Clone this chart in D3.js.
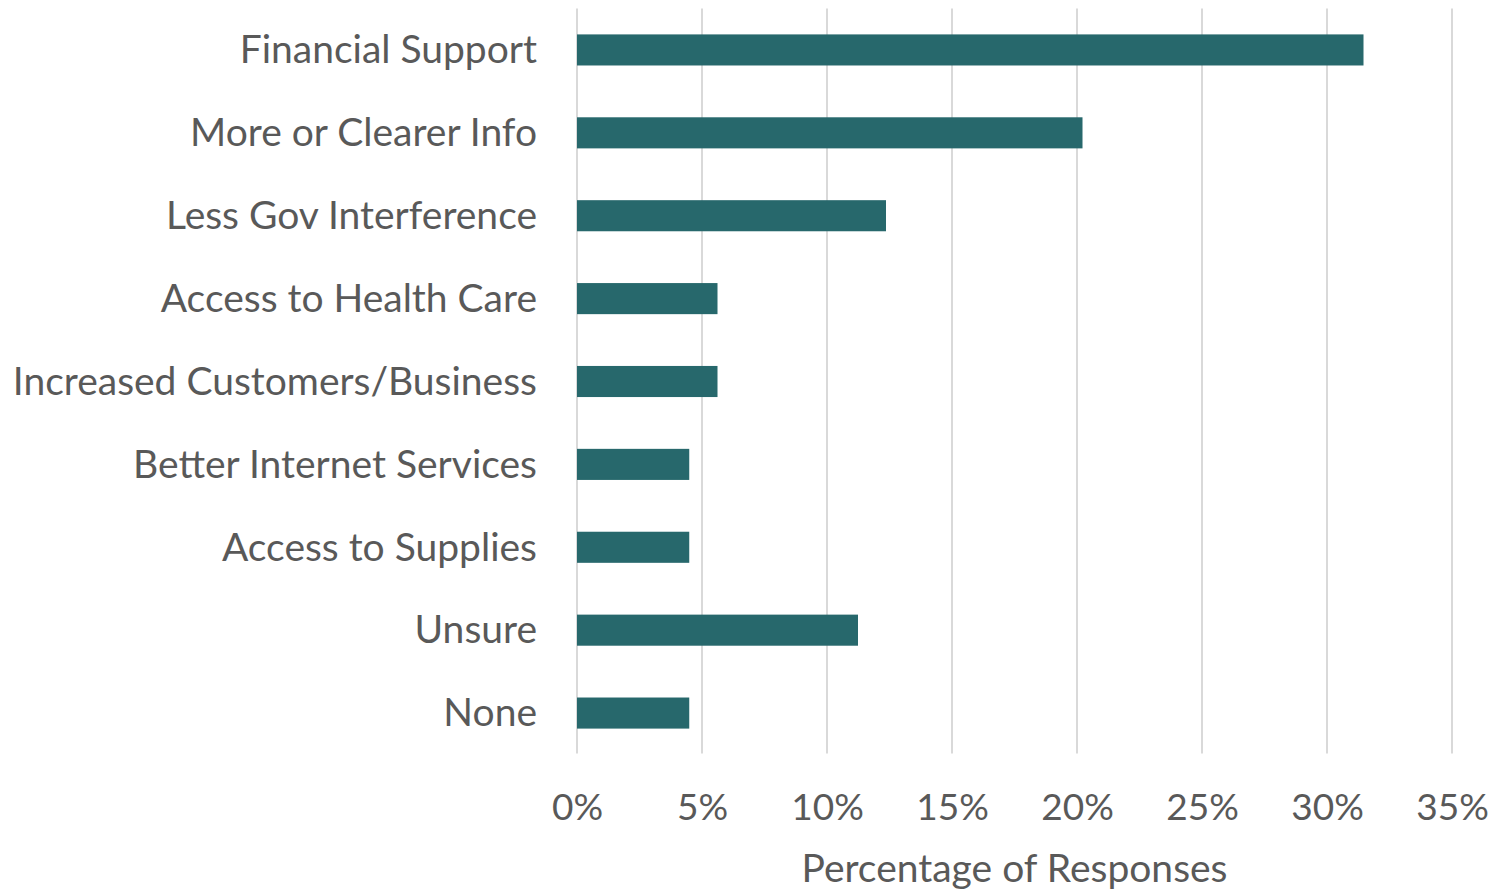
<!DOCTYPE html>
<html lang="en">

<head>
    <meta charset="UTF-8">
    <title>Percentage of Responses</title>
    <style>
        body {
            margin: 0;
            padding: 0;
            background-color: white;
        }

        svg text {
            font-family: Lato, "Open Sans", sans-serif;
            fill: #595959;
        }
    </style>
</head>

<body>
    <div id="chart"></div>
    <script src="https://cdn.jsdelivr.net/npm/d3@7"></script>
    <script>
        // data (share of responses, %)
        const categories = [
            'Financial Support',
            'More or Clearer Info',
            'Less Gov Interference',
            'Access to Health Care',
            'Increased Customers/Business',
            'Better Internet Services',
            'Access to Supplies',
            'Unsure',
            'None'
        ]
        const values = [31.46, 20.22, 12.36, 5.62, 5.62, 4.49, 4.49, 11.24, 4.49]
        const tickValues = [0, 5, 10, 15, 20, 25, 30, 35]

        const w = 1494
        const h = 891
        const plotLeft = 577
        const plotRight = 1452
        const plotTop = 8.5
        const plotBottom = 754.5

        const svg = d3.select('#chart')
            .append('svg')
            .attr('width', w)
            .attr('height', h)

        const xScale = d3.scaleLinear()
            .domain([0, 35])
            .range([plotLeft, plotRight])

        const yScale = d3.scaleBand()
            .domain(categories)
            .range([plotTop, plotBottom])
            .paddingInner(0.625)
            .paddingOuter(0.3125)

        // gridlines
        svg.append('g')
            .selectAll('line')
            .data(tickValues)
            .enter()
            .append('line')
            .attr('x1', d => xScale(d))
            .attr('x2', d => xScale(d))
            .attr('y1', plotTop)
            .attr('y2', plotBottom - 1)
            .attr('stroke', '#d9d9d9')
            .attr('stroke-width', 2)

        // bars
        svg.append('g')
            .selectAll('rect')
            .data(values)
            .enter()
            .append('rect')
            .attr('x', xScale(0))
            .attr('y', (d, i) => yScale(categories[i]))
            .attr('width', d => xScale(d) - xScale(0))
            .attr('height', yScale.bandwidth())
            .attr('fill', '#27686c')

        // category labels
        svg.append('g')
            .selectAll('text')
            .data(categories)
            .enter()
            .append('text')
            .attr('x', plotLeft - 40)
            .attr('y', d => yScale(d) + yScale.bandwidth() / 2)
            .attr('dy', '0.34em')
            .attr('text-anchor', 'end')
            .attr('font-size', 39)
            .text(d => d)

        // x axis labels
        const xAxis = d3.axisBottom(xScale)
            .tickValues(tickValues)
            .tickSize(0)
            .tickPadding(0)
            .tickFormat(d => d + '%')

        const gx = svg.append('g')
            .attr('transform', 'translate(0, 794)')
            .call(xAxis)
        gx.select('.domain').remove()
        gx.selectAll('text')
            .attr('font-size', 37)
            .attr('dy', '0.71em')

        svg.append('text')
            .attr('x', xScale(17.5))
            .attr('y', 882)
            .attr('text-anchor', 'middle')
            .attr('font-size', 39)
            .text('Percentage of Responses')
    </script>
</body>

</html>
